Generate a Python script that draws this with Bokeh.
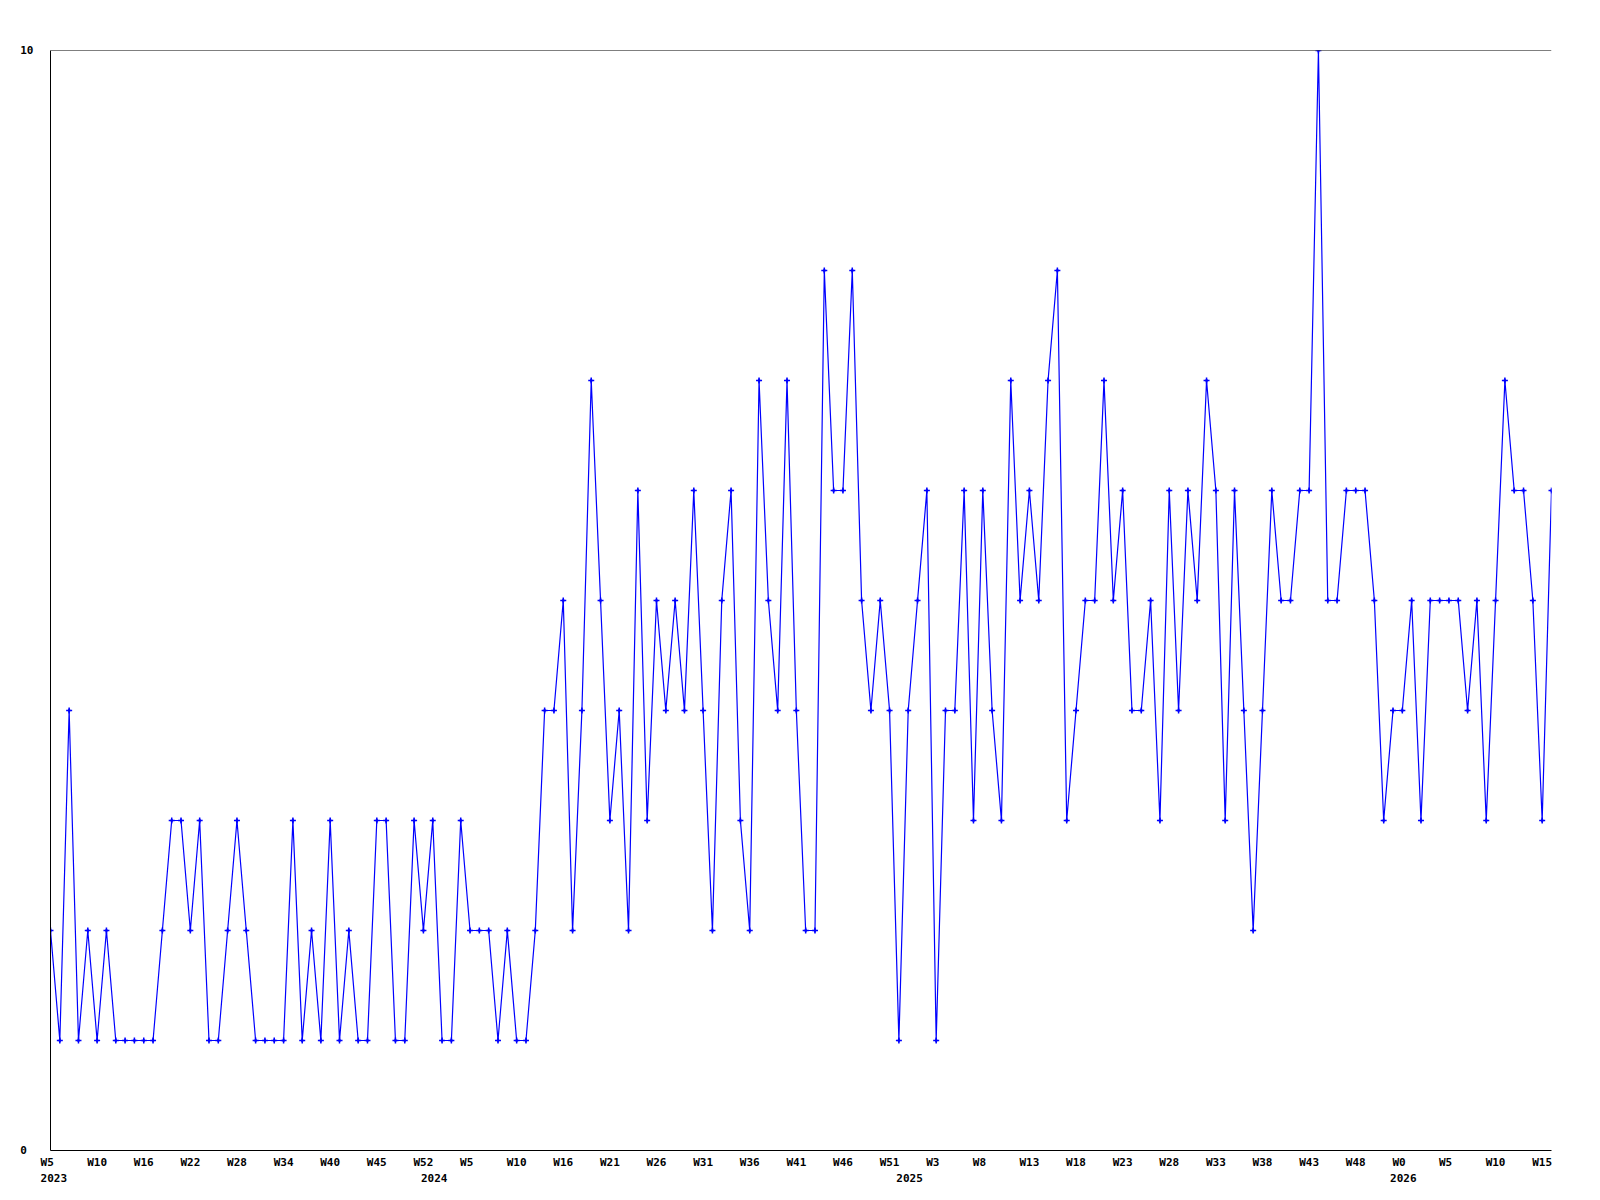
from bokeh.plotting import figure
from bokeh.models import Range1d, FixedTicker, LinearAxis, Span, ColumnDataSource
from bokeh.embed import file_html
from bokeh.resources import INLINE

# weekly counts
values = [
    2, 1, 4, 1, 2, 1, 2, 1, 1, 1,
    1, 1, 2, 3, 3, 2, 3, 1, 1, 2,
    3, 2, 1, 1, 1, 1, 3, 1, 2, 1,
    3, 1, 2, 1, 1, 3, 3, 1, 1, 3,
    2, 3, 1, 1, 3, 2, 2, 2, 1, 2,
    1, 1, 2, 4, 4, 5, 2, 4, 7, 5,
    3, 4, 2, 6, 3, 5, 4, 5, 4, 6,
    4, 2, 5, 6, 3, 2, 7, 5, 4, 7,
    4, 2, 2, 8, 6, 6, 8, 5, 4, 5,
    4, 1, 4, 5, 6, 1, 4, 4, 6, 3,
    6, 4, 3, 7, 5, 6, 5, 7, 8, 3,
    4, 5, 5, 7, 5, 6, 4, 4, 5, 3,
    6, 4, 6, 5, 7, 6, 3, 6, 4, 2,
    4, 6, 5, 5, 6, 6, 10, 5, 5, 6,
    6, 6, 5, 3, 4, 4, 5, 3, 5, 5,
    5, 5, 4, 5, 3, 5, 7, 6, 6, 5,
    3, 6,
]
index = list(range(len(values)))

# one week label every 5th sample
week_labels = [
    "W5", "W10", "W16", "W22", "W28", "W34", "W40", "W45", "W52",
    "W5", "W10", "W16", "W21", "W26", "W31", "W36", "W41", "W46", "W51",
    "W3", "W8", "W13", "W18", "W23", "W28", "W33", "W38", "W43", "W48",
    "W0", "W5", "W10", "W15",
]
TICK_EVERY = 5
week_ticks = [i * TICK_EVERY for i in range(len(week_labels))]

# year labels and their positions on the sample axis (year boundaries)
year_labels = ["2023", "2024", "2025", "2026"]
year_pos = [0.35, 41.15, 92.15, 145.1]

y_ticks = [0, 10]
y_labels = ["0\u00a0", "10"]

FONT = "DejaVu Sans Mono"
FSIZE = "11px"

p = figure(
    frame_width=1501, frame_height=1100,
    x_range=Range1d(0, len(values) - 1), y_range=Range1d(0, 10),
    x_axis_type=None, y_axis_type=None,
    output_backend="svg", toolbar_location=None,
    min_border_left=50, min_border_top=50, min_border_right=40, min_border_bottom=8,
    background_fill_color="white", border_fill_color="white",
)
p.outline_line_color = None


def style_axis(ax):
    ax.major_tick_line_color = None
    ax.minor_tick_line_color = None
    ax.major_tick_out = 0
    ax.major_tick_in = 0
    ax.minor_tick_out = 0
    ax.major_label_text_font = FONT
    ax.major_label_text_font_style = "bold"
    ax.major_label_text_font_size = FSIZE
    ax.major_label_text_color = "black"


def overrides(ticks, labels):
    d = {}
    for t, l in zip(ticks, labels):
        d[t] = l
        d[str(t)] = l
    return d


yax = LinearAxis(ticker=FixedTicker(ticks=y_ticks),
                 major_label_overrides=overrides(y_ticks, y_labels))
style_axis(yax)
yax.axis_line_color = "black"
yax.axis_line_width = 1
yax.major_label_standoff = 17
p.add_layout(yax, "left")

padded = [l + "\u00a0" * (3 - len(l)) for l in week_labels]
xax = LinearAxis(ticker=FixedTicker(ticks=week_ticks),
                 major_label_overrides=overrides(week_ticks, padded))
style_axis(xax)
xax.axis_line_color = "black"
xax.axis_line_width = 1
xax.major_label_standoff = 5
p.add_layout(xax, "below")

yrax = LinearAxis(ticker=FixedTicker(ticks=year_pos),
                  major_label_overrides=overrides(year_pos, year_labels))
style_axis(yrax)
yrax.axis_line_color = None
yrax.major_label_standoff = 2
p.add_layout(yrax, "below")

p.add_layout(Span(location=10, dimension="width", line_color="black", line_width=1))

src = ColumnDataSource(dict(x=index, y=values))
p.line("x", "y", source=src, line_color="#0000ff", line_width=1.2)
p.scatter("x", "y", source=src, marker="cross", size=6, line_color="#0000ff", line_width=1.5)
p.scatter("x", "y", source=src, marker="diamond", size=4, line_color="#0000ff",
          fill_color="#0000ff", line_width=0.5)

open("out.html", "w").write(file_html(p, INLINE))
